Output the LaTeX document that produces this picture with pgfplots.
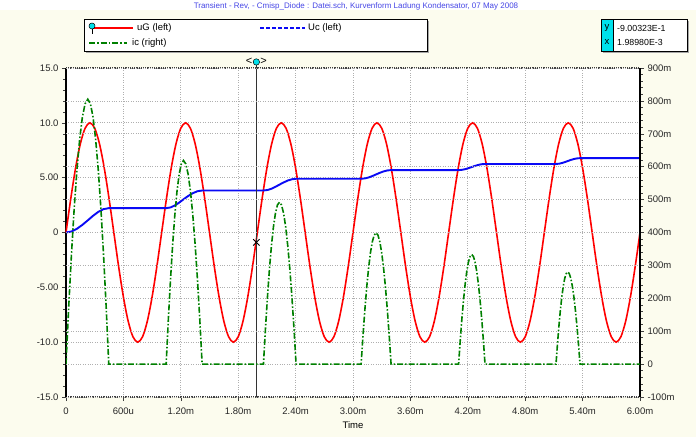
\documentclass[border=0pt]{standalone}
\usepackage{pgfplots}
\pgfplotsset{compat=1.18}
\usepackage{fontspec}
\setmainfont{Liberation Sans}
\definecolor{bgy}{RGB}{252,252,238}
\definecolor{ugred}{RGB}{255,0,0}
\definecolor{ucblue}{RGB}{10,10,245}
\definecolor{icgreen}{RGB}{0,128,0}
\definecolor{curcyan}{RGB}{0,225,235}
\definecolor{gridgray}{RGB}{175,175,175}
\definecolor{ttlblue}{RGB}{70,70,230}

\pgfplotsset{
  cmn/.style={
    scale only axis, width=574pt, height=329pt,
    at={(66pt,40pt)}, anchor=south west,
    xmin=0, xmax=6,
    tick label style={font=\fontsize{9.5}{11}\selectfont, text=black!85},
    tick align=outside,
    major tick length=4pt, minor tick length=2.5pt,
    tick style={black!75, line width=0.6pt},
    major grid style={gridgray, dotted, line width=0.7pt},
  }
}

\begin{document}
\begin{tikzpicture}[x=1pt,y=1pt]
\useasboundingbox (0,0) rectangle (696,437);
\fill[bgy] (0,0) rectangle (696,427);
\fill[white] (0,427) rectangle (696,437);
\node[anchor=base, text=ttlblue, font=\fontsize{8}{9}\selectfont, inner sep=0] at (356,428.5) {Transient - Rev, - Cmisp\_Diode : Datei.sch, Kurvenform Ladung Kondensator, 07 May 2008};

% legend box
\fill[black!35] (86,384) rectangle (429,416);
\filldraw[fill=white, draw=black, line width=0.8pt] (84,386) rectangle (427,418);
\draw[ugred, line width=1.6pt] (93,409) -- (133,409);
\draw[black, line width=0.6pt] (92,408) -- (92,403);
\filldraw[fill=curcyan, draw=black, line width=0.5pt] (92,411) circle (3);
\node[anchor=west, inner sep=0, font=\fontsize{9.5}{10}\selectfont] at (137,409) {uG (left)};
\draw[ucblue, line width=1.6pt, dash pattern=on 4pt off 2pt] (260,409) -- (305,409);
\node[anchor=west, inner sep=0, font=\fontsize{9.5}{10}\selectfont] at (308,409) {Uc (left)};
\draw[icgreen, line width=1.6pt, dash pattern=on 6pt off 2pt on 1.5pt off 2pt] (89,394) -- (127,394);
\node[anchor=west, inner sep=0, font=\fontsize{9.5}{10}\selectfont] at (132,394) {ic (right)};

% cursor readout box
\fill[black!35] (603,384) rectangle (689,416);
\filldraw[fill=white, draw=black, line width=0.8pt] (601,386) rectangle (687,418);
\filldraw[fill=curcyan, draw=black, line width=0.6pt] (601,386) rectangle (613,418);
\node[font=\fontsize{9.5}{10}\selectfont, inner sep=0] at (607,409) {y};
\node[font=\fontsize{9.5}{10}\selectfont, inner sep=0] at (607,395) {x};
\node[anchor=west, inner sep=0, font=\fontsize{8.8}{10}\selectfont] at (617,409) {-9.00323E-1};
\node[anchor=west, inner sep=0, font=\fontsize{8.8}{10}\selectfont] at (617,395) {1.98980E-3};

\begin{axis}[cmn,
  ymin=-15, ymax=15,
  axis background/.style={fill=white},
  axis x line=box, axis y line*=left, separate axis lines,
  x axis line style={black!75, densely dotted, line width=1.2pt, -},
  y axis line style={black, line width=1.5pt, -},
  xtick={0,0.6,1.2,1.8,2.4,3.0,3.6,4.2,4.8,5.4,6.0},
  xticklabels={0,600u,1.20m,1.80m,2.40m,3.00m,3.60m,4.20m,4.80m,5.40m,6.00m},
  xticklabel style={yshift=-3pt},
  xtick pos=left,
  ytick={-15,-10,-5,0,5,10,15},
  yticklabels={-15.0,-10.0,-5.00,0,5.00,10.0,15.0},
  ytick pos=left,
  minor y tick num=4,
  grid=major,
  xlabel={Time},
  xlabel style={font=\fontsize{9.5}{11}\selectfont, at={(axis description cs:0.5,0)}, anchor=center, yshift=-28pt},
  clip=false,
]
\addplot[ugred, line width=1.6pt, smooth] table {
0.00 0
0.05 3.090
0.10 5.878
0.15 8.090
0.20 9.511
0.25 10
0.30 9.511
0.35 8.090
0.40 5.878
0.45 3.090
0.50 0
0.55 -3.090
0.60 -5.878
0.65 -8.090
0.70 -9.511
0.75 -10
0.80 -9.511
0.85 -8.090
0.90 -5.878
0.95 -3.090
1.00 0
1.05 3.090
1.10 5.878
1.15 8.090
1.20 9.511
1.25 10
1.30 9.511
1.35 8.090
1.40 5.878
1.45 3.090
1.50 0
1.55 -3.090
1.60 -5.878
1.65 -8.090
1.70 -9.511
1.75 -10
1.80 -9.511
1.85 -8.090
1.90 -5.878
1.95 -3.090
2.00 0
2.05 3.090
2.10 5.878
2.15 8.090
2.20 9.511
2.25 10
2.30 9.511
2.35 8.090
2.40 5.878
2.45 3.090
2.50 0
2.55 -3.090
2.60 -5.878
2.65 -8.090
2.70 -9.511
2.75 -10
2.80 -9.511
2.85 -8.090
2.90 -5.878
2.95 -3.090
3.00 0
3.05 3.090
3.10 5.878
3.15 8.090
3.20 9.511
3.25 10
3.30 9.511
3.35 8.090
3.40 5.878
3.45 3.090
3.50 0
3.55 -3.090
3.60 -5.878
3.65 -8.090
3.70 -9.511
3.75 -10
3.80 -9.511
3.85 -8.090
3.90 -5.878
3.95 -3.090
4.00 0
4.05 3.090
4.10 5.878
4.15 8.090
4.20 9.511
4.25 10
4.30 9.511
4.35 8.090
4.40 5.878
4.45 3.090
4.50 0
4.55 -3.090
4.60 -5.878
4.65 -8.090
4.70 -9.511
4.75 -10
4.80 -9.511
4.85 -8.090
4.90 -5.878
4.95 -3.090
5.00 0
5.05 3.090
5.10 5.878
5.15 8.090
5.20 9.511
5.25 10
5.30 9.511
5.35 8.090
5.40 5.878
5.45 3.090
5.50 0
5.55 -3.090
5.60 -5.878
5.65 -8.090
5.70 -9.511
5.75 -10
5.80 -9.511
5.85 -8.090
5.90 -5.878
5.95 -3.090
6.00 0
};
\addplot[ucblue, line width=1.9pt] table {
0 0
0.057 0.090
0.114 0.337
0.171 0.695
0.228 1.11
0.2828 1.525
0.3375 1.883
0.3923 2.129
0.447 2.22
1.047 2.22
1.0923 2.286
1.1375 2.465
1.1828 2.724
1.228 3.025
1.2768 3.326
1.3255 3.585
1.3743 3.764
1.423 3.83
2.064 3.83
2.1058 3.874
2.1475 3.993
2.1893 4.165
2.231 4.365
2.2745 4.565
2.318 4.737
2.3615 4.856
2.405 4.90
3.085 4.90
3.124 4.932
3.163 5.020
3.202 5.147
3.241 5.295
3.2803 5.443
3.3195 5.570
3.3588 5.658
3.398 5.69
4.104 5.69
4.1383 5.713
4.1725 5.775
4.2068 5.865
4.241 5.97
4.2758 6.075
4.3105 6.165
4.3453 6.227
4.380 6.25
5.122 6.25
5.1525 6.272
5.183 6.331
5.2135 6.416
5.244 6.515
5.2763 6.614
5.3085 6.699
5.3408 6.758
5.373 6.78
6.0 6.78
};
% cursor
\draw[black!80, line width=0.8pt] (axis cs:1.9898,-15) -- (axis cs:1.9898,15.55);
\addplot[only marks, mark=x, mark size=4.5pt, mark options={black, line width=0.8pt}] coordinates {(1.9898,-0.900323)};
\addplot[only marks, mark=*, mark size=3.2pt, mark options={fill=curcyan, draw=black, line width=0.5pt}] coordinates {(1.9898,15.55)};
\node[font=\fontsize{11}{11}\selectfont, inner sep=0] at (axis cs:1.9898,15.6) {<\hspace{8pt}>};
\end{axis}

\begin{axis}[cmn,
  ymin=-100, ymax=900,
  axis x line=none, axis y line*=right,
  y axis line style={black, line width=1.5pt, -},
  ytick={-100,0,100,200,300,400,500,600,700,800,900},
  yticklabels={-100m,0,100m,200m,300m,400m,500m,600m,700m,800m,900m},
  ytick pos=right,
  minor y tick num=4,
  ymajorgrids,
]
\addplot[icgreen, line width=1.6pt, dash pattern=on 6pt off 2pt on 1.5pt off 2pt] table {
0 0
0.0285 175.5
0.057 333.3
0.0855 472.5
0.114 589.3
0.1425 682.6
0.171 750.3
0.1995 791.3
0.228 805
0.2554 791.3
0.2828 750.3
0.3101 682.6
0.3375 589.3
0.3649 472.5
0.3923 333.3
0.4196 175.5
0.447 0
1.047 0
1.0696 134.9
1.0923 256.3
1.1149 363.4
1.1375 453.1
1.1601 524.9
1.1828 576.9
1.2054 608.5
1.228 619
1.2524 608.5
1.2768 576.9
1.3011 524.9
1.3255 453.1
1.3499 363.4
1.3743 256.3
1.3986 134.9
1.423 0
2.064 0
2.0849 107.3
2.1058 203.7
2.1266 288.8
2.1475 360.1
2.1684 417.2
2.1893 458.5
2.2101 483.6
2.231 492
2.2528 483.6
2.2745 458.5
2.2963 417.2
2.318 360.1
2.3398 288.8
2.3615 203.7
2.3833 107.3
2.405 0
3.085 0
3.1045 87.0
3.124 165.2
3.1435 234.2
3.163 292.1
3.1825 338.4
3.202 371.9
3.2215 392.2
3.241 399
3.2606 392.2
3.2803 371.9
3.2999 338.4
3.3195 292.1
3.3391 234.2
3.3588 165.2
3.3784 87.0
3.398 0
4.104 0
4.1211 72.6
4.1383 137.9
4.1554 195.5
4.1725 243.8
4.1896 282.4
4.2068 310.4
4.2239 327.3
4.241 333
4.2584 327.3
4.2758 310.4
4.2931 282.4
4.3105 243.8
4.3279 195.5
4.3453 137.9
4.3626 72.6
4.380 0
5.122 0
5.1373 61.0
5.1525 115.9
5.1678 164.4
5.183 205.0
5.1983 237.4
5.2135 261.0
5.2288 275.2
5.244 280
5.2601 275.2
5.2763 261.0
5.2924 237.4
5.3085 205.0
5.3246 164.4
5.3408 115.9
5.3569 61.0
5.373 0
6.0 0
};
\end{axis}
\end{tikzpicture}
\end{document}
